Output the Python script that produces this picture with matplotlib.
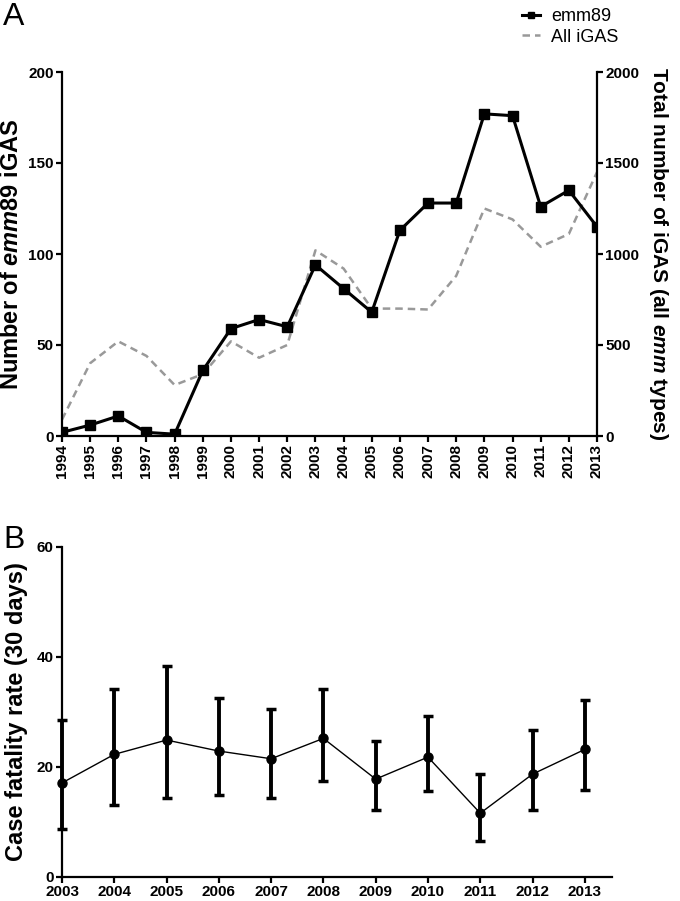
import matplotlib
matplotlib.use("Agg")
import matplotlib.pyplot as plt

# Panel A data
years_a = list(range(1994, 2014))
emm89 = [2, 6, 11, 2, 1, 36, 59, 64, 60, 94, 81, 68, 113, 128, 128, 177, 176, 126, 135, 115]
all_igas = [90, 400, 520, 440, 280, 340, 520, 430, 500, 1020, 920, 700, 700, 695, 880, 1250, 1190, 1040, 1110, 1450]

# Panel B data
years_b = list(range(2003, 2014))
cfr = [17.1, 22.3, 24.9, 22.9, 21.5, 25.2, 17.8, 21.8, 11.6, 18.7, 23.2]
cfr_lo = [8.8, 13.1, 14.3, 15.0, 14.3, 17.5, 12.1, 15.6, 6.5, 12.1, 15.8]
cfr_hi = [28.5, 34.1, 38.3, 32.6, 30.5, 34.1, 24.7, 29.2, 18.7, 26.7, 32.1]

plt.rcParams['font.family'] = ['Liberation Sans', 'DejaVu Sans']
plt.rcParams['mathtext.fontset'] = 'custom'
plt.rcParams['mathtext.it'] = 'Liberation Sans:bold:italic'
plt.rcParams['mathtext.rm'] = 'Liberation Sans:bold'

W, H = 680, 901
fig = plt.figure(figsize=(W / 100, H / 100), dpi=100)

def box(l, t, r, b):
    return [l / W, 1 - b / H, (r - l) / W, (b - t) / H]

tickfont = dict(weight='bold', size=11)

# ---- panel A
ax = fig.add_axes(box(62, 72, 597, 436))
ax2 = ax.twinx()
ax2.plot(years_a, all_igas, color='#999999', ls=(0, (3, 2)), lw=1.8, label='All iGAS')
ax.plot(years_a, emm89, color='black', lw=2.2, marker='s', ms=7, label='emm89', zorder=5)
ax.set_zorder(ax2.get_zorder() + 1)
ax.patch.set_visible(False)
ax.set_xlim(1994, 2013)
ax.set_ylim(0, 200)
ax2.set_ylim(0, 2000)
ax.set_yticks([0, 50, 100, 150, 200])
ax2.set_yticks([0, 500, 1000, 1500, 2000])
ax.set_xticks(years_a)
ax.set_xticklabels([str(y) for y in years_a], rotation=90, **tickfont)
ax.set_yticklabels([str(v) for v in ax.get_yticks().astype(int)], **tickfont)
ax2.set_yticklabels([str(v) for v in ax2.get_yticks().astype(int)], **tickfont)
for a in (ax, ax2):
    a.spines['top'].set_visible(False)
    for s in a.spines.values():
        s.set_linewidth(1.6)
    a.tick_params(width=1.6, length=4, pad=2)
ax.spines['right'].set_visible(False)
ax2.spines['left'].set_visible(False)
ax2.spines['bottom'].set_visible(False)
ax.set_ylabel('Number of $emm$89 iGAS', fontsize=17, fontweight='bold', labelpad=4)
ax2.set_ylabel('Total number of iGAS (all $emm$ types)', fontsize=15, fontweight='bold',
               rotation=270, labelpad=22)

h1, l1 = ax.get_legend_handles_labels()
h2, l2 = ax2.get_legend_handles_labels()
fig.legend(h1 + h2, l1 + l2, loc='upper left', bbox_to_anchor=(522 / W, 1 - 8 / H),
           frameon=False, fontsize=13, handlelength=1.0, handletextpad=0.6,
           labelspacing=0.2, markerscale=0.7, borderpad=0, borderaxespad=0)

fig.text(3 / W, 1 - 17 / H, 'A', fontsize=23, va='center', ha='left')

# ---- panel B
bx = fig.add_axes(box(62, 547, 612, 877))
err = [[v - lo for v, lo in zip(cfr, cfr_lo)], [hi - v for v, hi in zip(cfr, cfr_hi)]]
bx.errorbar(years_b, cfr, yerr=err, color='black', lw=1, marker='o', ms=6.5,
            elinewidth=2.8, capsize=3.5, capthick=2.5, clip_on=False)
bx.set_xlim(2003, 2013.52)
bx.set_ylim(0, 60)
bx.set_yticks([0, 20, 40, 60])
bx.set_xticks(years_b)
bx.set_xticklabels([str(y) for y in years_b], **tickfont)
bx.set_yticklabels(['0', '20', '40', '60'], **tickfont)
bx.spines['top'].set_visible(False)
bx.spines['right'].set_visible(False)
for s in bx.spines.values():
    s.set_linewidth(1.6)
bx.tick_params(width=1.6, length=4, pad=2)
bx.set_ylabel('Case fatality rate (30 days)', fontsize=17, fontweight='bold', labelpad=6)

fig.text(3 / W, 1 - 540 / H, 'B', fontsize=23, va='center', ha='left')

fig.savefig('out.png', dpi=100)
